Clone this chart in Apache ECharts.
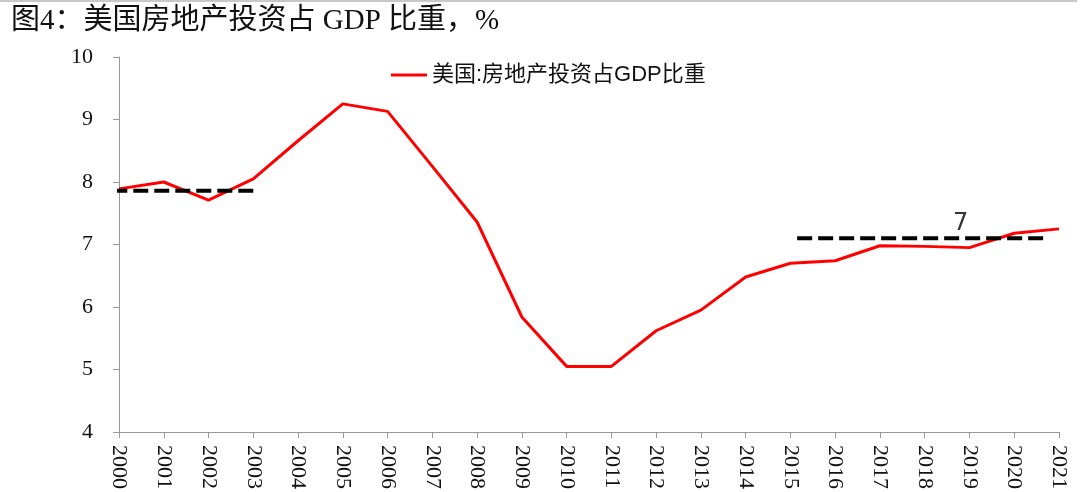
<!DOCTYPE html>
<html>
<head>
<meta charset="utf-8">
<script src="https://cdn.jsdelivr.net/npm/echarts@6/dist/echarts.min.js"></script>
<style>
  html, body { margin: 0; padding: 0; background: #fff; }
  #main { width: 1080px; height: 492px; }
</style>
</head>
<body>
<div id="main"></div>
<script>
// 数据
var years = [2000, 2001, 2002, 2003, 2004, 2005, 2006, 2007, 2008, 2009, 2010,
  2011, 2012, 2013, 2014, 2015, 2016, 2017, 2018, 2019, 2020, 2021];
var shareValues = [7.89, 8.00, 7.71, 8.05, 8.66, 9.25, 9.13, 8.25, 7.36, 5.84, 5.05,
  5.05, 5.62, 5.95, 6.48, 6.70, 6.74, 6.98, 6.97, 6.95, 7.18, 7.25];
var seriesName = '美国:房地产投资占GDP比重';
// 均值虚线
var earlyAvgX = [1999.85, 2003.0];
var earlyAvgY = 7.86;
var lateAvgX = [2015.15, 2020.65];
var lateAvgY = 7.10;
var noteLabel = ['7', 2018.8, 7.33];
var yTicks = [4, 10, 1];

var chart = echarts.init(document.getElementById('main'));

var mainData = years.map(function (y, i) { return [y, shareValues[i]]; });

var option = {
  backgroundColor: '#fff',
  animation: false,
  title: {
    text: '图4：美国房地产投资占 GDP 比重，%',
    left: 6,
    top: 2,
    textStyle: {
      fontFamily: '"Liberation Serif", "Noto Sans CJK SC", serif',
      fontSize: 29,
      fontWeight: 'normal',
      color: '#111'
    }
  },
  graphic: [{
    type: 'rect',
    shape: { x: 0, y: 0, width: 1077, height: 2 },
    style: { fill: '#c8c8c8' }
  }],
  legend: {
    data: [seriesName],
    left: 386,
    top: 59,
    icon: 'rect',
    itemWidth: 36,
    itemHeight: 3,
    itemGap: 4,
    textStyle: {
      fontFamily: '"Liberation Sans", "Noto Sans CJK SC", sans-serif',
      fontSize: 22,
      color: '#111'
    }
  },
  grid: {
    left: 119,
    right: 21,
    top: 57,
    bottom: 60
  },
  xAxis: {
    type: 'value',
    min: years[0],
    max: years[years.length - 1],
    interval: 1,
    axisLine: { lineStyle: { color: '#999', width: 1 } },
    axisTick: { show: true, length: 6, lineStyle: { color: '#999' } },
    splitLine: { show: false },
    axisLabel: {
      rotate: -90,
      margin: 13,
      fontFamily: '"Liberation Serif", serif',
      fontSize: 22,
      color: '#111',
      formatter: function (v) { return String(v); }
    }
  },
  yAxis: {
    type: 'value',
    min: yTicks[0],
    max: yTicks[1],
    interval: yTicks[2],
    axisLine: { show: true, lineStyle: { color: '#999', width: 1 } },
    axisTick: { show: true, length: 6, lineStyle: { color: '#999' } },
    splitLine: { show: false },
    axisLabel: {
      margin: 26,
      fontFamily: '"Liberation Serif", serif',
      fontSize: 22,
      color: '#111'
    }
  },
  series: [
    {
      name: seriesName,
      type: 'line',
      data: mainData,
      showSymbol: false,
      symbol: 'none',
      lineStyle: { color: '#ff0000', width: 3 },
      itemStyle: { color: '#ff0000' },
      z: 3
    },
    {
      name: 'avg1',
      type: 'line',
      data: [[earlyAvgX[0], earlyAvgY], [earlyAvgX[1], earlyAvgY]],
      symbol: 'none',
      clip: false,
      lineStyle: { color: '#000', width: 4, type: [15, 6] },
      z: 4
    },
    {
      name: 'avg2',
      type: 'line',
      data: [[lateAvgX[0], lateAvgY], [lateAvgX[1], lateAvgY]],
      symbol: 'none',
      clip: false,
      lineStyle: { color: '#000', width: 4, type: [15, 6] },
      z: 4
    },
    {
      name: 'note',
      type: 'scatter',
      data: [[noteLabel[1], noteLabel[2]]],
      symbolSize: 0,
      label: {
        show: true,
        position: 'inside',
        formatter: noteLabel[0],
        fontFamily: '"DejaVu Sans", sans-serif',
        fontSize: 24,
        color: '#000'
      },
      z: 5
    }
  ]
};

chart.setOption(option);
</script>
</body>
</html>
